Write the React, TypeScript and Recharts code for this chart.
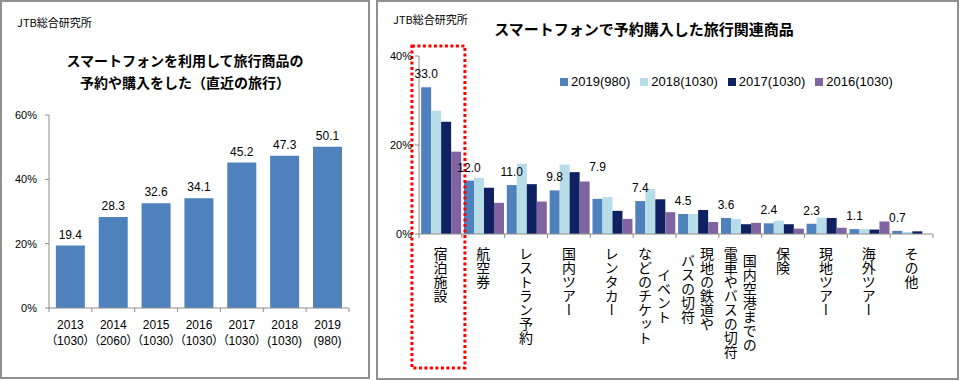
import { BarChart, Bar, XAxis, YAxis, LabelList } from "recharts";

// left chart: share of travelers who booked by smartphone
const years = ["2013", "2014", "2015", "2016", "2017", "2018", "2019"];
const yearSamples = ["（1030）", "（2060）", "（1030）", "（1030）", "（1030）", "(1030)", "(980)"];
const bookingRate = [19.4, 28.3, 32.6, 34.1, 45.2, 47.3, 50.1];
const leftTicks = [0, 20, 40, 60];

// right chart: products booked by smartphone (lines of a label split by \n)
const products = [
  "宿泊施設",
  "航空券",
  "レストラン予約",
  "国内ツアー",
  "レンタカー",
  "イベント\nなどのチケット",
  "現地の鉄道や\nバスの切符",
  "国内空港までの\n電車やバスの切符",
  "保険",
  "現地ツアー",
  "海外ツアー",
  "その他",
];
const v2019 = [33.0, 12.0, 11.0, 9.8, 7.9, 7.4, 4.5, 3.6, 2.4, 2.3, 1.1, 0.7];
const v2018 = [27.7, 12.6, 15.8, 15.6, 8.3, 10.1, 4.5, 3.4, 3.0, 3.7, 1.1, 0.45];
const v2017 = [25.2, 10.4, 11.2, 13.9, 5.2, 7.8, 5.4, 2.2, 2.2, 3.6, 1.0, 0.6];
const v2016 = [18.5, 7.0, 7.3, 11.8, 3.4, 4.9, 2.7, 2.5, 1.2, 1.4, 2.8, null];
const rightTicks = [0, 20, 40];

const seriesList = [
  { key: "y2019", name: "2019(980)", color: "#4F81BD" },
  { key: "y2018", name: "2018(1030)", color: "#B7DEE8" },
  { key: "y2017", name: "2017(1030)", color: "#0F2160" },
  { key: "y2016", name: "2016(1030)", color: "#8064A2" },
];

const leftData = years.map((y, i) => ({ year: y, sample: yearSamples[i], rate: bookingRate[i] }));
const rightData = products.map((p, i) => ({
  name: p,
  y2019: v2019[i],
  y2018: v2018[i],
  y2017: v2017[i],
  y2016: v2016[i],
}));

const FONT = '"Liberation Sans", "Noto Sans CJK JP", sans-serif';
const JP = '"Noto Sans CJK JP", sans-serif';
const AXIS = "#8C8C8C";

// layout
const L_W = 370, L_H = 379, L_TOP = 115, L_LEFT = 49, L_RIGHT = 21;
const L_BAND = (L_W - L_LEFT - L_RIGHT) / years.length;
const R_W = 583, R_H = 380, R_TOP = 56, R_LEFT = 43, R_RIGHT = 26;
const R_BAND = (R_W - R_LEFT - R_RIGHT) / products.length;
const raisedLabel = "レンタカー";

const LeftTick = (props: any) => {
  const { x, y, index, payload } = props;
  const last = index === years.length - 1;
  return (
    <g>
      <line x1={x - L_BAND / 2} y1={y} x2={x - L_BAND / 2} y2={y + 4} stroke={AXIS} />
      {last && <line x1={x + L_BAND / 2} y1={y} x2={x + L_BAND / 2} y2={y + 4} stroke={AXIS} />}
      <text x={x} y={y + 17} textAnchor="middle" dominantBaseline="central" fontSize={12} fill="#000">
        {payload.value}
      </text>
      <text
        x={x}
        y={y + 33}
        textAnchor="middle"
        dominantBaseline="central"
        fontSize={12}
        fill="#000"
        style={{ fontFeatureSettings: '"palt"' }}
      >
        {yearSamples[index]}
      </text>
    </g>
  );
};

const RightTick = (props: any) => {
  const { x, y, index, payload } = props;
  const last = index === products.length - 1;
  const lines: string[] = String(payload.value).split("\n");
  const top = y + 13;
  const longest = Math.max(...lines.map((l) => l.length));
  const gap = 19;
  return (
    <g>
      <line x1={x - R_BAND / 2} y1={y} x2={x - R_BAND / 2} y2={y + 4} stroke={AXIS} />
      {last && <line x1={x + R_BAND / 2} y1={y} x2={x + R_BAND / 2} y2={y + 4} stroke={AXIS} />}
      {lines.map((l, i) => (
        <text
          key={i}
          x={x + ((lines.length - 1) / 2) * gap - i * gap}
          y={lines.length > 1 ? top + (longest * 14) / 2 : top}
          textAnchor={lines.length > 1 ? "middle" : "start"}
          fontSize={14}
          fontFamily={JP}
          fill="#000"
          style={{ writingMode: "vertical-rl" }}
        >
          {l}
        </text>
      ))}
      {index === 0 && (
        <rect
          x={x - 28.5}
          y={y - 188}
          width={53}
          height={322}
          fill="none"
          stroke="#FF0000"
          strokeWidth={3}
          strokeDasharray="3 2.5"
        />
      )}
    </g>
  );
};

const rightLabel = (p: any) => {
  if (p.value == null) return null;
  const lift = products[p.index] === raisedLabel ? 32 : 13;
  return (
    <text
      x={p.x + p.width / 2}
      y={p.y - lift}
      textAnchor="middle"
      dominantBaseline="central"
      fontSize={12}
      fontFamily={FONT}
      fill="#000"
    >
      {Number(p.value).toFixed(1)}
    </text>
  );
};

const panel = (left: number, w: number, h: number): React.CSSProperties => ({
  position: "absolute",
  left,
  top: 0,
  width: w,
  height: h,
  boxSizing: "border-box",
  border: "2px solid #919191",
  background: "#fff",
});

const abs = (left: number, top: number, extra: React.CSSProperties = {}): React.CSSProperties => ({
  position: "absolute",
  left,
  top,
  whiteSpace: "nowrap",
  lineHeight: 1,
  ...extra,
});

export default function App() {
  return (
    <div style={{ position: "absolute", left: 0, top: 0, width: 960, height: 381, background: "#fff", fontFamily: FONT }}>
      {/* left panel */}
      <div style={panel(0, L_W, L_H)}>
        <div style={{ position: "absolute", left: -2, top: -2 }}>
          <BarChart
            width={L_W}
            height={L_H}
            data={leftData}
            margin={{ top: L_TOP, right: L_RIGHT, left: 0, bottom: 0 }}
            barCategoryGap="16%"
          >
            <XAxis
              dataKey="year"
              axisLine={{ stroke: AXIS }}
              tickLine={false}
              tickSize={0}
              tickMargin={0}
              height={71}
              interval={0}
              tick={<LeftTick />}
            />
            <YAxis
              domain={[0, 60]}
              ticks={leftTicks}
              width={L_LEFT}
              axisLine={{ stroke: AXIS }}
              tickLine={{ stroke: AXIS }}
              tickSize={4}
              tickMargin={8}
              tick={{ fontSize: 11, fill: "#000", fontFamily: FONT }}
              tickFormatter={(v) => `${v}%`}
            />
            <Bar dataKey="rate" fill="#4F81BD" isAnimationActive={false}>
              <LabelList
                dataKey="rate"
                position="top"
                offset={7}
                formatter={(v: any) => Number(v).toFixed(1)}
                style={{ fontSize: 12, fill: "#000", fontFamily: FONT }}
              />
            </Bar>
          </BarChart>
          <div style={abs(17, 17, { fontSize: 11, fontFamily: JP })}>JTB総合研究所</div>
          <div style={abs(0, 53, { width: L_W, textAlign: "center", fontSize: 14, fontWeight: 700, fontFamily: JP })}>
            スマートフォンを利用して旅行商品の
          </div>
          <div style={abs(0, 75, { width: L_W, textAlign: "center", fontSize: 14, fontWeight: 700, fontFamily: JP })}>
            予約や購入をした（直近の旅行）
          </div>
        </div>
      </div>

      {/* right panel */}
      <div style={panel(376, R_W, R_H)}>
        <div style={{ position: "absolute", left: -2, top: -2 }}>
          <BarChart
            width={R_W}
            height={R_H}
            data={rightData}
            margin={{ top: R_TOP, right: R_RIGHT, left: 0, bottom: 0 }}
            barCategoryGap="5%"
            barGap={0}
          >
            <XAxis
              dataKey="name"
              axisLine={{ stroke: AXIS }}
              tickLine={false}
              tickSize={0}
              tickMargin={0}
              height={146}
              interval={0}
              tick={<RightTick />}
            />
            <YAxis
              domain={[0, 40]}
              ticks={rightTicks}
              width={R_LEFT}
              axisLine={{ stroke: AXIS }}
              tickLine={{ stroke: AXIS }}
              tickSize={4}
              tickMargin={3}
              tick={{ fontSize: 11, fill: "#000", fontFamily: FONT }}
              tickFormatter={(v) => `${v}%`}
            />
            {seriesList.map((s) => (
              <Bar key={s.key} dataKey={s.key} name={s.name} fill={s.color} isAnimationActive={false}>
                {s.key === "y2019" && <LabelList dataKey={s.key} content={rightLabel} />}
              </Bar>
            ))}
          </BarChart>
          <div style={abs(17, 14, { fontSize: 11, fontFamily: JP })}>JTB総合研究所</div>
          <div style={abs(268, 21, { transform: "translateX(-50%)", fontSize: 15, fontWeight: 700, fontFamily: JP })}>
            スマートフォンで予約購入した旅行関連商品
          </div>
          <div style={abs(184, 75, { display: "flex", alignItems: "center", fontSize: 13 })}>
            {seriesList.map((s) => (
              <div key={s.key} style={{ display: "flex", alignItems: "center", marginRight: 10 }}>
                <span style={{ width: 8, height: 8, background: s.color, marginRight: 3 }} />
                <span>{s.name}</span>
              </div>
            ))}
          </div>
        </div>
      </div>
    </div>
  );
}
